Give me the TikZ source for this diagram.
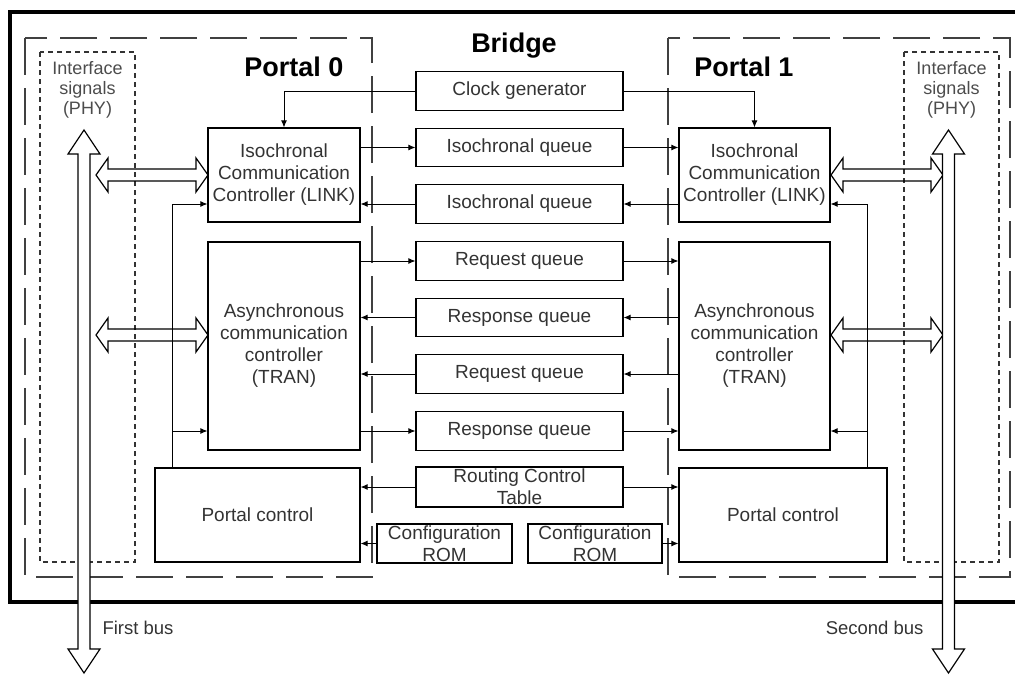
\documentclass[tikz,border=0pt]{standalone}
\usepackage{fontspec}
\setmainfont{Liberation Sans}
\usetikzlibrary{arrows.meta}

% hollow horizontal double arrow: left tip x, right tip x, y
\newcommand{\hbusarrow}[3]{%
  \draw[hollow] (#1,#3) -- ++(12,-17) -- ++(0,11) -- (#2-12,#3-6) -- ++(0,-11)
    -- (#2,#3) -- ++(-12,17) -- ++(0,-11) -- (#1+12,#3+6) -- ++(0,11) -- cycle;}
% hollow vertical double arrow: x, top tip y, bottom tip y
\newcommand{\vbusarrow}[3]{%
  \draw[hollow,fill=white] (#1,#2) -- ++(16,24) -- ++(-10,0) -- (#1+6,#3-24)
    -- ++(10,0) -- (#1,#3) -- ++(-16,-24) -- ++(10,0) -- (#1-6,#2+24)
    -- ++(-10,0) -- cycle;}

\begin{document}
\begin{tikzpicture}[x=1pt,y=-1pt,
  unit/.style={draw, line width=1.2pt, rectangle, inner sep=0pt, align=center,
    font=\fontsize{19}{22}\selectfont, text=black!80},
  conn/.style={line width=0.9pt, -{Latex[length=7pt,width=6pt]}},
  wire/.style={line width=0.9pt},
  portal/.style={draw=black!75, line width=1.4pt, dash pattern=on 37pt off 13pt},
  phy/.style={draw=black!80, line width=1.2pt, dash pattern=on 5pt off 4pt},
  phytext/.style={align=center, font=\fontsize{18}{20}\selectfont, text=black!70},
  title/.style={font=\fontsize{27}{30}\selectfont\bfseries},
  hollow/.style={draw, line width=1.2pt, line join=miter},
  buslabel/.style={font=\fontsize{18.5}{20}\selectfont, text=black!80}]

\useasboundingbox (0,0) rectangle (1015,675);

% bridge enclosure
\draw[line width=3.5pt] (1016,12) -- (10,12) -- (10,602) -- (1016,602);

% portal regions
\draw[portal] (25,38) rectangle (372,577);
\draw[portal] (668,38) rectangle (1010,577);

% physical-layer regions
\draw[phy] (40,52) rectangle (135,562);
\draw[phy] (904,52) rectangle (999,562);
\node[phytext] (phy0) at (87.5,90) {Interface\\signals\\(PHY)};
\node[phytext] (phy1) at (951.5,90) {Interface\\signals\\(PHY)};

% titles
\node[title] (t0) at (294,67) {Portal 0};
\node[title] (t1) at (744,67) {Portal 1};
\node[title] (tb) at (514,46) {Bridge};

% portal 0 units
\node[unit, minimum width=152, minimum height=94] (lnk0) at (284,175)
  {Isochronal\\Communication\\Controller (LINK)};
\node[unit, minimum width=152, minimum height=208] (tran0) at (284,346)
  {Asynchronous\\communication\\controller\\(TRAN)};
\node[unit, minimum width=205, minimum height=94] (pc0) at (257.5,515) {Portal control};

% portal 1 units
\node[unit, minimum width=151, minimum height=94] (lnk1) at (754.5,175)
  {Isochronal\\Communication\\Controller (LINK)};
\node[unit, minimum width=151, minimum height=208] (tran1) at (754.5,346)
  {Asynchronous\\communication\\controller\\(TRAN)};
\node[unit, minimum width=208, minimum height=94] (pc1) at (783,515) {Portal control};

% bridge units
\begin{scope}[every node/.append style={unit, minimum width=207, minimum height=38.5}]
\node (clk) at (519.5,91) {Clock generator};
\node (iq1) at (519.5,147.5) {Isochronal queue};
\node (iq2) at (519.5,204) {Isochronal queue};
\node (rq1) at (519.5,261) {Request queue};
\node (rs1) at (519.5,317.5) {Response queue};
\node (rq2) at (519.5,374) {Request queue};
\node (rs2) at (519.5,431) {Response queue};
\node[minimum height=40] (rct) at (519.5,487) {Routing Control\\Table};
\end{scope}
\node[unit, minimum width=135, minimum height=39] (rom0) at (444.5,543.5) {Configuration\\ROM};
\node[unit, minimum width=134, minimum height=39] (rom1) at (595,543.5) {Configuration\\ROM};

% clock distribution
\draw[conn] (clk.west) -| (lnk0.north);
\draw[conn] (clk.east) -| (lnk1.north);

% isochronous path
\draw[conn] (lnk0.east |- iq1.west) -- (iq1.west);
\draw[conn] (iq1.east) -- (lnk1.west |- iq1.east);
\draw[conn] (lnk1.west |- iq2.east) -- (iq2.east);
\draw[conn] (iq2.west) -- (lnk0.east |- iq2.west);

% asynchronous path
\draw[conn] (tran0.east |- rq1.west) -- (rq1.west);
\draw[conn] (rq1.east) -- (tran1.west |- rq1.east);
\draw[conn] (tran1.west |- rs1.east) -- (rs1.east);
\draw[conn] (rs1.west) -- (tran0.east |- rs1.west);
\draw[conn] (tran1.west |- rq2.east) -- (rq2.east);
\draw[conn] (rq2.west) -- (tran0.east |- rq2.west);
\draw[conn] (tran0.east |- rs2.west) -- (rs2.west);
\draw[conn] (rs2.east) -- (tran1.west |- rs2.east);

% routing table and configuration ROMs
\draw[conn] (rct.west) -- (pc0.east |- rct.west);
\draw[conn] (rct.east) -- (pc1.west |- rct.east);
\draw[conn] (rom0.west) -- (pc0.east |- rom0.west);
\draw[conn] (rom1.east) -- (pc1.west |- rom1.east);

% portal control feeds
\coordinate (v0) at (172,0);
\coordinate (v1) at (867,0);
\draw[wire] (pc0.north -| v0) -- (v0 |- iq2.west);
\draw[conn] (v0 |- iq2.west) -- (lnk0.west |- iq2.west);
\draw[conn] (v0 |- rs2.west) -- (tran0.west |- rs2.west);
\draw[wire] (pc1.north -| v1) -- (v1 |- iq2.east);
\draw[conn] (v1 |- iq2.east) -- (lnk1.east |- iq2.east);
\draw[conn] (v1 |- rs2.east) -- (tran1.east |- rs2.east);

% interface links to the buses
\hbusarrow{96}{208}{175}
\hbusarrow{96}{208}{335}
\hbusarrow{831}{943}{175}
\hbusarrow{831}{943}{335}

% buses
\vbusarrow{84}{130}{673}
\vbusarrow{948.5}{130}{673}
\node[buslabel, anchor=west] (fb) at (99,628) {First bus};
\node[buslabel, anchor=east] (sb) at (927,628) {Second bus};

\end{tikzpicture}
\end{document}
